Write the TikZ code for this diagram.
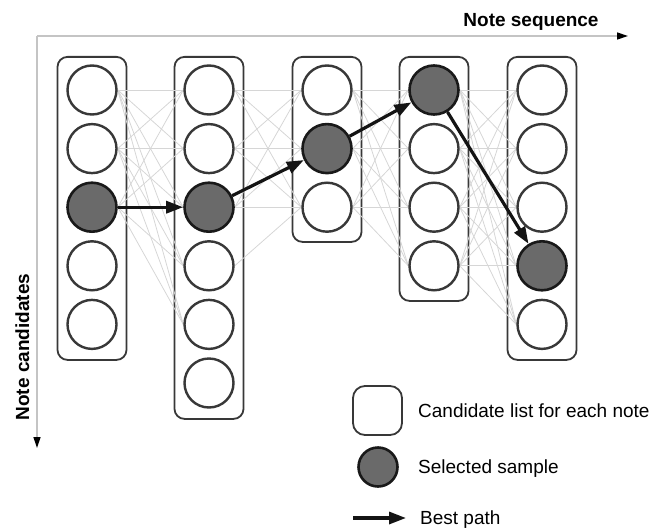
\documentclass[tikz,border=0pt]{standalone}
\usepackage{fontspec}
\setmainfont{Liberation Sans}
\usetikzlibrary{arrows.meta}
\pgfdeclarelayer{boxes}
\pgfdeclarelayer{links}
\pgfsetlayers{boxes,links,main}
\definecolor{linkgray}{HTML}{D6D6D6}
\definecolor{axisgray}{HTML}{C4C4C4}
\definecolor{selgray}{HTML}{6A6A6A}
\definecolor{rimgray}{HTML}{383838}
\begin{document}
\begin{tikzpicture}[x=1pt,y=-1pt,
  cand/.style={circle, draw=rimgray, line width=2.4pt, fill=white, minimum size=49pt, inner sep=0pt},
  sel/.style={cand, fill=selgray, draw=black!90, line width=2.6pt},
  listbox/.style={draw=rimgray, line width=1.8pt, rounded corners=10pt, fill=white, minimum width=69pt, inner sep=0pt, anchor=north},
  link/.style={draw=linkgray, line width=0.8pt},
  axis/.style={draw=axisgray, line width=1.3pt, -{Triangle[length=11pt,width=7pt,color=black]}},
  bestpath/.style={draw=black!92, line width=3.2pt, -{Triangle[length=17pt,width=12pt]}},
  lbl/.style={font=\fontsize{19}{22}\selectfont, inner sep=0pt},
  bold/.style={lbl, font=\fontsize{19}{22}\selectfont\bfseries}
]
\useasboundingbox (0,0) rectangle (655,527);

% axes
\coordinate (o) at (37,36);
\coordinate (xend) at (628,36);
\coordinate (yend) at (37,448);
\draw[axis] (o) -- (xend);
\draw[axis] (o) -- (yend);
\node[bold, anchor=base] (xlab) at (531,27) {Note sequence};
\node[bold, anchor=base, rotate=90] (ylab) at (29,347) {Note candidates};

% candidate lists
\begin{pgfonlayer}{boxes}
\node[listbox, minimum height=303pt] (b1) at (92,56) {};
\node[listbox, minimum height=362pt] (b2) at (209,56) {};
\node[listbox, minimum height=185pt] (b3) at (327,56) {};
\node[listbox, minimum height=244pt] (b4) at (434,56) {};
\node[listbox, minimum height=303pt] (b5) at (542,56) {};
\end{pgfonlayer}

% candidates
\foreach \k/\cx/\n/\s in {1/92/5/3, 2/209/6/3, 3/327/3/2, 4/434/4/1, 5/542/5/4}{
  \foreach \r in {1,...,\n}{
    \pgfmathsetmacro\cy{90+(\r-1)*58.6}
    \ifnum\r=\s\relax
      \node[sel] (c-\k-\r) at (\cx,\cy) {};
    \else
      \node[cand] (c-\k-\r) at (\cx,\cy) {};
    \fi
  }
}

% links between neighbouring lists
\begin{pgfonlayer}{links}
\foreach \i in {1,2,3}{\foreach \j in {1,...,5}{\draw[link] (c-1-\i.east) -- (c-2-\j.west);}}
\foreach \i in {1,2,3}{\foreach \j in {1,2,3}{\draw[link] (c-2-\i.east) -- (c-3-\j.west);}}
\draw[link] (c-2-4.east) -- (c-3-3.west);
\foreach \i in {1,2,3}{\foreach \j in {1,...,4}{\draw[link] (c-3-\i.east) -- (c-4-\j.west);}}
\foreach \i in {1,...,4}{\foreach \j in {1,...,5}{\draw[link] (c-4-\i.east) -- (c-5-\j.west);}}
\end{pgfonlayer}

% best path
\draw[bestpath] (c-1-3) -- (c-2-3);
\draw[bestpath] (c-2-3) -- (c-3-2);
\draw[bestpath] (c-3-2) -- (c-4-1);
\draw[bestpath] (c-4-1) -- (c-5-4);

% legend
\node[draw=rimgray, line width=1.8pt, rounded corners=12pt, fill=white, minimum width=49pt, minimum height=49pt, inner sep=0pt] (lbox) at (377.5,410.5) {};
\node[lbl, anchor=base west] (ltxt1) at (418,417) {Candidate list for each note};
\node[sel, minimum size=39pt] (lcirc) at (378,467) {};
\node[lbl, anchor=base west] (ltxt2) at (418,473) {Selected sample};
\coordinate (la) at (353,518);
\coordinate (lb) at (406,518);
\draw[bestpath] (la) -- (lb);
\node[lbl, anchor=base west] (ltxt3) at (420,524) {Best path};
\end{tikzpicture}
\end{document}
